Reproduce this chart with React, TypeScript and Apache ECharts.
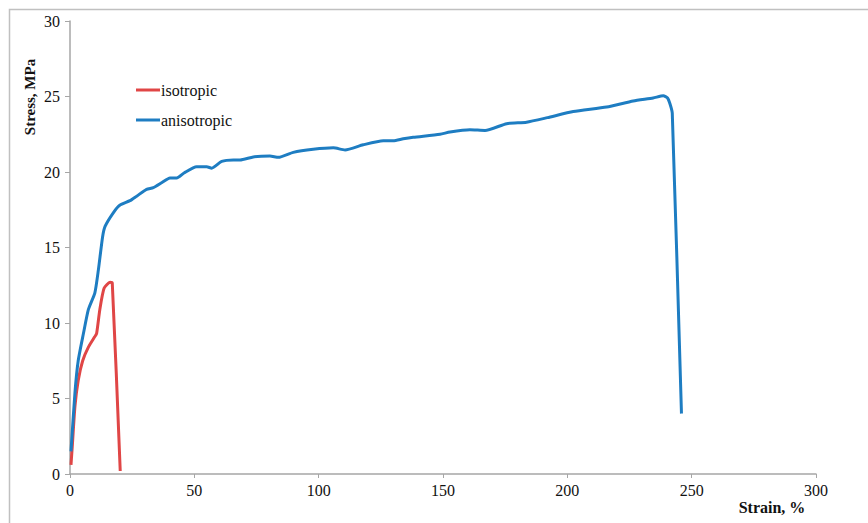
import React, { useEffect, useRef } from "react";
import * as echarts from "echarts";

const isoStrain = [0.4, 0.9, 2, 3.3, 5.1, 7.4, 10, 10.7, 12, 13.7, 16.1, 17, 20.2];
const isoStress = [0.6, 1.8, 4.5, 6.2, 7.5, 8.4, 9.1, 9.3, 10.9, 12.3, 12.7, 12.65, 0.2];

const anisoStrain = [
  0.4, 2, 3.3, 5.4, 7.4, 10, 11.4, 13.1, 14.1, 17.4,
  20, 24.1, 26.8, 30.8, 33.5, 37, 40.2, 42.9, 46, 50.9,
  55, 57, 61, 65.7, 68.4, 73.7, 80.4, 83.8, 89.8, 97.8,
  105.9, 110.6, 117.9, 126, 130, 134, 138, 148.8, 152.8, 160.8,
  166.9, 175.6, 183.6, 192, 202.4, 215.8, 226.5, 234.5, 238.6, 240.3,
  241.3, 242.2, 245.9,
];
const anisoStress = [
  1.5, 5.4, 7.5, 9.3, 10.9, 12.0, 13.5, 15.7, 16.4, 17.3,
  17.8, 18.1, 18.4, 18.85, 18.96, 19.3, 19.6, 19.6, 19.95, 20.35,
  20.35, 20.25, 20.7, 20.8, 20.8, 21.0, 21.06, 20.97, 21.3, 21.5,
  21.6, 21.46, 21.8, 22.07, 22.07, 22.2, 22.3, 22.5, 22.65, 22.8,
  22.75, 23.2, 23.3, 23.6, 24.0, 24.3, 24.7, 24.9, 25.05, 24.9,
  24.5, 23.9, 4.0,
];

const seriesNames = ["isotropic", "anisotropic"];
const xTitle = "Strain, %";
const yTitle = "Stress, MPa";

const FONT = "Liberation Serif";

export default function App() {
  const ref = useRef<HTMLDivElement>(null);
  useEffect(() => {
    if (!ref.current) return;
    const chart = echarts.init(ref.current, null, { renderer: "svg" });
    const axisLine = { show: true, lineStyle: { color: "#A6A6A6", width: 1.5 } };
    chart.setOption({
      animation: false,
      backgroundColor: "#ffffff",
      textStyle: { fontFamily: FONT },
      grid: { left: 70, right: 52, top: 21, bottom: 49 },
      legend: {
        orient: "vertical",
        left: 131,
        top: 77,
        icon: "rect",
        itemWidth: 24,
        itemHeight: 3,
        itemGap: 14,
        data: seriesNames,
        textStyle: { fontFamily: FONT, fontSize: 16, color: "#111", padding: [0, 0, 0, -4] },
      },
      xAxis: {
        type: "value",
        min: 0,
        max: 300,
        interval: 50,
        splitLine: { show: false },
        axisLine,
        axisTick: { show: true, length: 4, lineStyle: { color: "#A6A6A6" } },
        axisLabel: { fontFamily: FONT, fontSize: 16, color: "#111", margin: 8 },
      },
      yAxis: {
        type: "value",
        min: 0,
        max: 30,
        interval: 5,
        splitLine: { show: false },
        axisLine,
        axisTick: { show: true, length: 5, lineStyle: { color: "#A6A6A6" } },
        axisLabel: { fontFamily: FONT, fontSize: 16, color: "#111", margin: 10 },
      },
      graphic: [
        {
          type: "rect",
          shape: { x: 9.5, y: 9.5, width: 1000, height: 1000 },
          style: { fill: "none", stroke: "#C0C0C0", lineWidth: 1.5 },
          silent: true,
        },
        {
          type: "text",
          x: 30,
          y: 97,
          rotation: Math.PI / 2,
          style: {
            text: yTitle,
            fontFamily: FONT,
            fontSize: 15,
            fontWeight: "bold",
            fill: "#111",
            align: "center",
            verticalAlign: "middle",
          },
        },
        {
          type: "text",
          x: 772,
          y: 507,
          style: {
            text: xTitle,
            fontFamily: FONT,
            fontSize: 16,
            fontWeight: "bold",
            fill: "#111",
            align: "center",
            verticalAlign: "middle",
          },
        },
      ],
      series: [
        {
          name: seriesNames[0],
          type: "line",
          symbol: "none",
          smooth: 0.2,
          color: "#E04646",
          lineStyle: { width: 3, color: "#E04646" },
          data: isoStrain.map((x, i) => [x, isoStress[i]]),
        },
        {
          name: seriesNames[1],
          type: "line",
          symbol: "none",
          smooth: 0.2,
          color: "#1E7DC2",
          lineStyle: { width: 3, color: "#1E7DC2" },
          data: anisoStrain.map((x, i) => [x, anisoStress[i]]),
        },
      ],
    });
    return () => chart.dispose();
  }, []);
  return (
    <div
      ref={ref}
      style={{ position: "absolute", left: 0, top: 0, width: 868, height: 523 }}
    />
  );
}
